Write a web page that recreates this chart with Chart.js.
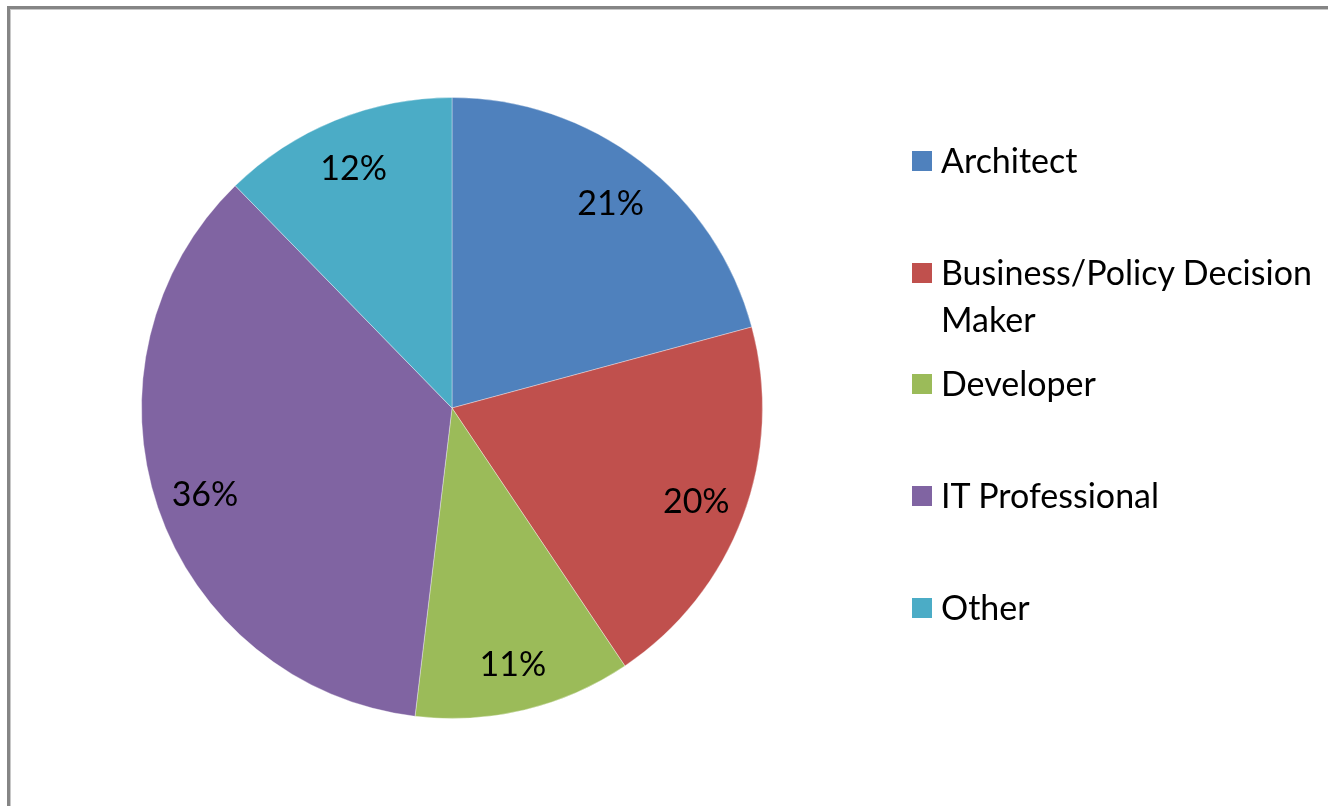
<!DOCTYPE html>
<html>
<head>
<meta charset="utf-8">
<script src="https://cdn.jsdelivr.net/npm/chart.js@4/dist/chart.umd.min.js"></script>
<style>
  html, body { margin: 0; padding: 0; background: #fff; }
  body { width: 1328px; height: 806px; position: relative; overflow: hidden; }
  #frame { position: absolute; left: 7px; top: 6px; width: 1400px; height: 900px;
           border-left: 3px solid #858585; border-top: 3px solid #858585;
           box-shadow: inset 1px 1px 0 #c8c8c8; }
  #wrap { position: absolute; left: 0; top: 0; width: 1328px; height: 806px; }
  #legend { position: absolute; left: 0; top: 0; width: 1328px; height: 806px; pointer-events: none;
            font-family: Lato, "Open Sans", sans-serif; font-size: 34px; color: #000; }
  .item { position: absolute; left: 912px; width: 416px; display: flex; align-items: flex-start; }
  .box { width: 20px; height: 20px; flex: none; margin-right: 9px; margin-top: 15px; }
  .txt { line-height: 47px; width: 385px; }
</style>
</head>
<body>
<div id="frame"></div>
<div id="wrap"><canvas id="c" width="1328" height="806"></canvas></div>
<div id="legend"></div>
<script>
const categories = ["Architect", "Business/Policy Decision Maker", "Developer", "IT Professional", "Other"];
const values = [20.8, 19.8, 11.3, 35.8, 12.3];
const colors = ["#4F81BD", "#C0504D", "#9BBB59", "#8064A2", "#4BACC6"];

const pctLabels = {
  id: 'pctLabels',
  afterDatasetsDraw(chart) {
    const ctx = chart.ctx;
    const meta = chart.getDatasetMeta(0);
    const data = chart.data.datasets[0].data;
    const total = data.reduce((a, b) => a + b, 0);
    ctx.save();
    ctx.font = '34px Lato, "Open Sans", sans-serif';
    ctx.fillStyle = '#000';
    ctx.textAlign = 'center';
    ctx.textBaseline = 'middle';
    meta.data.forEach((arc, i) => {
      const p = arc.getProps(['x', 'y', 'startAngle', 'endAngle', 'outerRadius'], true);
      const a = (p.startAngle + p.endAngle) / 2;
      const r = p.outerRadius * 0.84;
      const txt = Math.round(data[i] / total * 100) + '%';
      ctx.fillText(txt, p.x + Math.cos(a) * r, p.y + Math.sin(a) * r + 3);
    });
    ctx.restore();
  }
};

const chart = new Chart(document.getElementById('c'), {
  type: 'pie',
  data: {
    labels: categories,
    datasets: [{
      data: values,
      backgroundColor: colors,
      borderColor: 'rgba(255,255,255,0.35)',
      borderWidth: 1
    }]
  },
  options: {
    responsive: false,
    animation: false,
    layout: { padding: { left: 141, right: 565, top: 97, bottom: 87 } },
    plugins: { legend: { display: false }, tooltip: { enabled: false } }
  },
  plugins: [pctLabels]
});

// HTML legend built from the chart data
const legend = document.getElementById('legend');
chart.data.labels.forEach((lab, i) => {
  const item = document.createElement('div');
  item.className = 'item';
  item.style.top = (136 + i * 111.7) + 'px';
  const box = document.createElement('div');
  box.className = 'box';
  box.style.background = chart.data.datasets[0].backgroundColor[i];
  const t = document.createElement('div');
  t.className = 'txt';
  t.textContent = lab;
  item.appendChild(box);
  item.appendChild(t);
  legend.appendChild(item);
});
</script>
</body>
</html>
